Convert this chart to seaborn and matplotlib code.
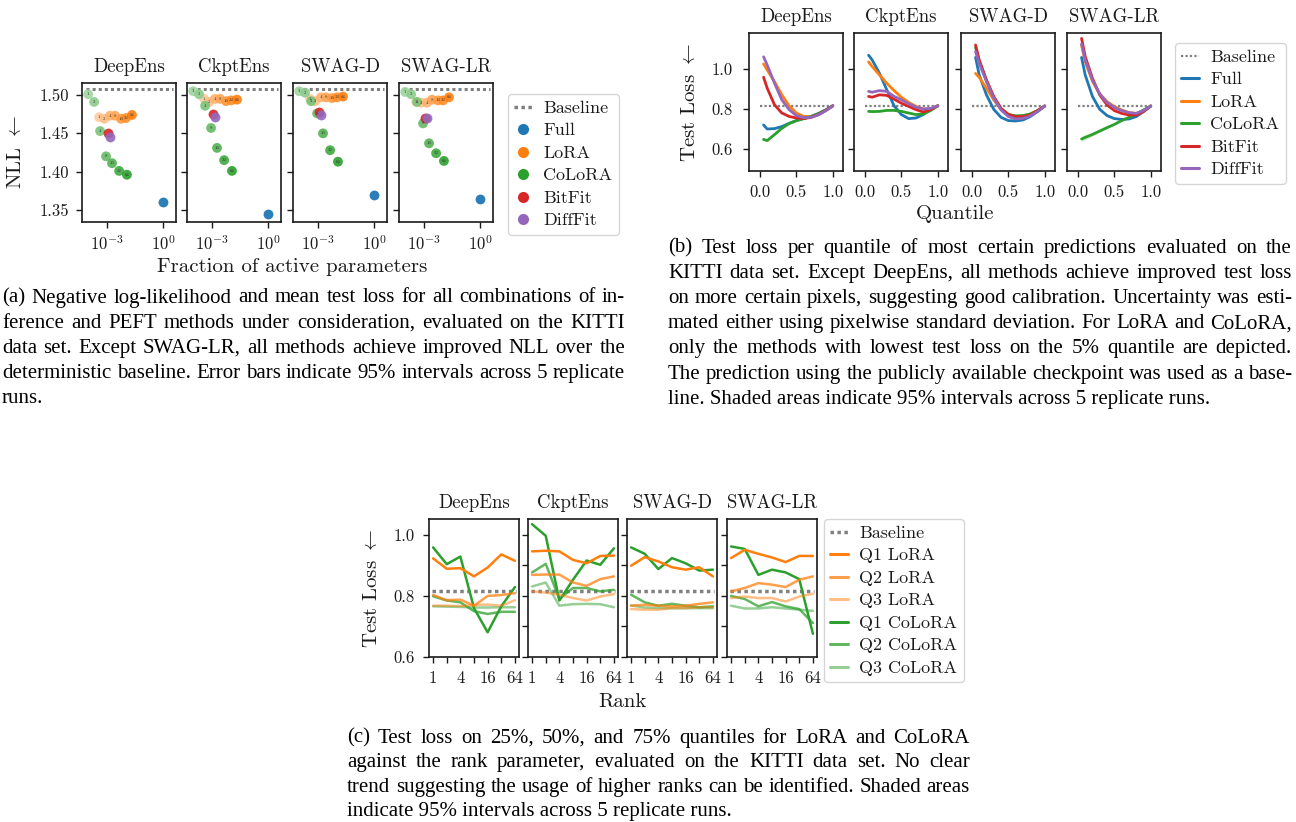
import numpy as np
import pandas as pd
import matplotlib
matplotlib.use("Agg")
import matplotlib.pyplot as plt
import seaborn as sns
from matplotlib.lines import Line2D

W, H = 1296, 822

methods = ["DeepEns", "CkptEns", "SWAG-D", "SWAG-LR"]
ranks = [1, 2, 4, 8, 16, 32, 64]

# ---- (a) NLL vs fraction of active parameters (log10 of fraction)
lora_frac_exp = [-3.42, -3.15, -2.84, -2.57, -2.25, -1.98, -1.66]
colora_frac_exp = [-4.01, -3.69, -3.37, -3.05, -2.73, -2.35, -1.93]
bitfit_frac_exp = -2.96
difffit_frac_exp = -2.83
full_frac_exp = 0.0

nll_baseline = 1.508
nll_full = [1.360, 1.345, 1.369, 1.364]
nll_bitfit = [1.450, 1.475, 1.478, 1.470]
nll_difffit = [1.445, 1.471, 1.474, 1.470]
nll_lora = [
    [1.471, 1.469, 1.473, 1.473, 1.469, 1.470, 1.474],
    [1.495, 1.491, 1.495, 1.495, 1.492, 1.493, 1.494],
    [1.495, 1.492, 1.497, 1.497, 1.496, 1.497, 1.498],
    [1.491, 1.490, 1.490, 1.494, 1.493, 1.493, 1.497],
]
nll_colora = [
    [1.501, 1.491, 1.453, 1.420, 1.411, 1.401, 1.396],
    [1.505, 1.501, 1.486, 1.457, 1.431, 1.415, 1.401],
    [1.505, 1.503, 1.492, 1.476, 1.450, 1.428, 1.413],
    [1.504, 1.501, 1.491, 1.463, 1.437, 1.424, 1.414],
]

# ---- (b) test loss per quantile
quantiles = [0.05, 0.1, 0.2, 0.3, 0.4, 0.5, 0.6, 0.7, 0.8, 0.9, 1.0]
loss_baseline = 0.815
loss_full = [
    [0.720, 0.700, 0.702, 0.712, 0.728, 0.742, 0.752, 0.763, 0.777, 0.795, 0.816],
    [1.069, 1.045, 0.978, 0.896, 0.816, 0.772, 0.752, 0.755, 0.772, 0.797, 0.816],
    [1.058, 0.970, 0.870, 0.798, 0.758, 0.742, 0.740, 0.745, 0.762, 0.787, 0.815],
    [1.058, 0.970, 0.862, 0.798, 0.767, 0.752, 0.748, 0.750, 0.762, 0.787, 0.815],
]
loss_lora = [
    [1.025, 0.995, 0.937, 0.871, 0.816, 0.780, 0.763, 0.762, 0.771, 0.791, 0.816],
    [1.036, 1.012, 0.970, 0.929, 0.892, 0.859, 0.833, 0.813, 0.800, 0.800, 0.816],
    [0.978, 0.958, 0.903, 0.845, 0.798, 0.773, 0.762, 0.765, 0.775, 0.792, 0.815],
    [1.120, 1.037, 0.937, 0.875, 0.837, 0.812, 0.795, 0.782, 0.778, 0.792, 0.815],
]
loss_colora = [
    [0.648, 0.642, 0.672, 0.703, 0.727, 0.742, 0.752, 0.762, 0.776, 0.795, 0.816],
    [0.788, 0.787, 0.788, 0.793, 0.793, 0.788, 0.780, 0.772, 0.775, 0.792, 0.816],
    [1.108, 1.040, 0.940, 0.857, 0.800, 0.772, 0.766, 0.767, 0.775, 0.792, 0.815],
    [0.650, 0.658, 0.673, 0.690, 0.707, 0.723, 0.742, 0.758, 0.775, 0.795, 0.815],
]
loss_bitfit = [
    [0.959, 0.904, 0.821, 0.780, 0.763, 0.755, 0.752, 0.758, 0.772, 0.792, 0.816],
    [0.863, 0.859, 0.871, 0.868, 0.849, 0.829, 0.813, 0.797, 0.785, 0.797, 0.816],
    [1.120, 1.045, 0.945, 0.862, 0.803, 0.773, 0.762, 0.762, 0.770, 0.792, 0.815],
    [1.153, 1.062, 0.953, 0.870, 0.820, 0.792, 0.778, 0.770, 0.770, 0.787, 0.815],
]
loss_difffit = [
    [1.061, 1.020, 0.929, 0.846, 0.797, 0.767, 0.757, 0.758, 0.770, 0.791, 0.816],
    [0.888, 0.884, 0.892, 0.888, 0.863, 0.846, 0.826, 0.810, 0.800, 0.803, 0.816],
    [1.087, 1.028, 0.937, 0.853, 0.795, 0.762, 0.750, 0.753, 0.765, 0.787, 0.815],
    [1.125, 1.045, 0.945, 0.875, 0.832, 0.808, 0.792, 0.782, 0.778, 0.792, 0.815],
]
# half width of the visible 95% band (CoLoRA, SWAG-LR)
colora_swaglr_band = [0.014, 0.012, 0.009, 0.007, 0.005, 0.004, 0.003, 0.003, 0.002, 0.002, 0.002]

# ---- (c) test loss on quantiles vs rank
q1_lora = [
    [0.923, 0.889, 0.891, 0.864, 0.893, 0.936, 0.915],
    [0.946, 0.948, 0.946, 0.918, 0.907, 0.931, 0.932],
    [0.899, 0.927, 0.913, 0.894, 0.886, 0.894, 0.864],
    [0.924, 0.951, 0.938, 0.926, 0.911, 0.931, 0.931],
]
q2_lora = [
    [0.803, 0.786, 0.788, 0.768, 0.800, 0.803, 0.809],
    [0.869, 0.870, 0.870, 0.844, 0.833, 0.855, 0.864],
    [0.768, 0.771, 0.768, 0.766, 0.768, 0.774, 0.779],
    [0.815, 0.826, 0.842, 0.837, 0.829, 0.853, 0.864],
]
q3_lora = [
    [0.768, 0.768, 0.767, 0.770, 0.772, 0.768, 0.786],
    [0.815, 0.811, 0.804, 0.793, 0.785, 0.798, 0.806],
    [0.757, 0.755, 0.755, 0.760, 0.760, 0.763, 0.763],
    [0.793, 0.798, 0.793, 0.793, 0.782, 0.798, 0.807],
]
q1_colora = [
    [0.959, 0.904, 0.929, 0.760, 0.681, 0.766, 0.829],
    [1.035, 0.997, 0.785, 0.853, 0.916, 0.902, 0.956],
    [0.959, 0.938, 0.888, 0.924, 0.907, 0.883, 0.886],
    [0.962, 0.954, 0.869, 0.886, 0.877, 0.855, 0.676],
]
q2_colora = [
    [0.799, 0.785, 0.779, 0.750, 0.741, 0.748, 0.748],
    [0.877, 0.905, 0.790, 0.826, 0.826, 0.815, 0.820],
    [0.804, 0.779, 0.768, 0.774, 0.768, 0.763, 0.766],
    [0.800, 0.790, 0.766, 0.780, 0.766, 0.757, 0.711],
]
q3_colora = [
    [0.766, 0.765, 0.764, 0.762, 0.762, 0.763, 0.763],
    [0.831, 0.844, 0.768, 0.773, 0.774, 0.773, 0.763],
    [0.769, 0.762, 0.760, 0.760, 0.760, 0.760, 0.760],
    [0.768, 0.759, 0.759, 0.763, 0.759, 0.755, 0.751],
]

caption_a = [
    "(a) Negative log-likelihood and mean test loss for all combinations of in-",
    "ference and PEFT methods under consideration, evaluated on the KITTI",
    "data set. Except SWAG-LR, all methods achieve improved NLL over the",
    "deterministic baseline. Error bars indicate 95% intervals across 5 replicate",
    "runs.",
]
caption_b = [
    "(b) Test loss per quantile of most certain predictions evaluated on the",
    "KITTI data set. Except DeepEns, all methods achieve improved test loss",
    "on more certain pixels, suggesting good calibration. Uncertainty was esti-",
    "mated either using pixelwise standard deviation. For LoRA and CoLoRA,",
    "only the methods with lowest test loss on the 5% quantile are depicted.",
    "The prediction using the publicly available checkpoint was used as a base-",
    "line. Shaded areas indicate 95% intervals across 5 replicate runs.",
]
caption_c = [
    "(c) Test loss on 25%, 50%, and 75% quantiles for LoRA and CoLoRA",
    "against the rank parameter, evaluated on the KITTI data set.  No clear",
    "trend suggesting the usage of higher ranks can be identified. Shaded areas",
    "indicate 95% intervals across 5 replicate runs.",
]

sns.set_theme(style="ticks")
plt.rcParams.update({
    "font.family": "cmr10",
    "mathtext.fontset": "cm",
    "axes.formatter.use_mathtext": True,
    "axes.linewidth": 1.2,
    "axes.edgecolor": "#1a1a1a",
    "xtick.color": "#1a1a1a",
    "ytick.color": "#1a1a1a",
    "text.color": "#1a1a1a",
    "xtick.major.size": 4,
    "ytick.major.size": 4,
    "xtick.major.width": 1.0,
    "ytick.major.width": 1.0,
    "xtick.labelsize": 12,
    "ytick.labelsize": 12,
    "axes.titlesize": 13.5,
    "legend.fontsize": 13,
})
LABEL_SIZE = 15

c_full, c_lora, c_colora, c_bitfit, c_difffit = sns.color_palette("tab10")[:5]
c_base = "#808080"


def shade(color, n, lo):
    # blend with white, light for low ranks, full colour for rank 64
    return [tuple(1 - a * (1 - np.array(color))) for a in np.linspace(lo, 1.0, n)]


lora_ranks_col = shade(c_lora, len(ranks), 0.4)
colora_ranks_col = shade(c_colora, len(ranks), 0.45)

fig = plt.figure(figsize=(W / 100, H / 100), dpi=100)


def px_axes(left, top, w, h):
    return fig.add_axes([left / W, 1 - (top + h) / H, w / W, h / H])


legend_kw = dict(loc="upper left", borderaxespad=0, handlelength=1.0, handletextpad=0.6,
                 labelspacing=0.38, borderpad=0.35)

# ================= (a) =================
a_lefts = [82, 187, 293, 399]
for i, m in enumerate(methods):
    ax = px_axes(a_lefts[i], 83, 94, 139)
    ax.axhline(nll_baseline, xmin=0.04, xmax=0.97, color=c_base, lw=2.2,
               ls=(0, (1, 1)), zorder=1)
    xl = 10.0 ** np.array(lora_frac_exp)
    xc = 10.0 ** np.array(colora_frac_exp)
    sns.scatterplot(x=xl, y=nll_lora[i], hue=ranks, palette=lora_ranks_col,
                    s=50, alpha=0.9, linewidth=0, legend=False, ax=ax, zorder=2)
    sns.scatterplot(x=xc, y=nll_colora[i], hue=ranks, palette=colora_ranks_col,
                    s=50, alpha=0.9, linewidth=0, legend=False, ax=ax, zorder=3)
    sns.scatterplot(x=[10.0 ** bitfit_frac_exp], y=[nll_bitfit[i]], color=c_bitfit,
                    s=50, alpha=0.9, linewidth=0, ax=ax, zorder=4)
    sns.scatterplot(x=[10.0 ** difffit_frac_exp], y=[nll_difffit[i]], color=c_difffit,
                    s=50, alpha=0.9, linewidth=0, ax=ax, zorder=5)
    sns.scatterplot(x=[10.0 ** full_frac_exp], y=[nll_full[i]], color=c_full,
                    s=50, alpha=0.95, linewidth=0, ax=ax, zorder=5)
    for r, x, y in zip(ranks, xl, nll_lora[i]):
        ax.text(x, y, str(r), fontsize=3.4, ha="center", va="center", color="#333333", zorder=6)
    for r, x, y in zip(ranks, xc, nll_colora[i]):
        ax.text(x, y, str(r), fontsize=3.4, ha="center", va="center", color="#333333", zorder=6)
    ax.set_xscale("log")
    ax.set_xlim(10 ** -4.34, 10 ** 0.7)
    ax.set_ylim(1.3343, 1.5157)
    ax.set_xticks([1e-3, 1e0])
    ax.xaxis.set_minor_locator(matplotlib.ticker.NullLocator())
    ax.set_yticks([1.35, 1.40, 1.45, 1.50])
    ax.yaxis.set_major_formatter(matplotlib.ticker.FormatStrFormatter("%.2f"))
    ax.tick_params(pad=5, labelleft=(i == 0))
    ax.set_title(m, pad=8)

fig.text(292 / W, 1 - 267 / H, "Fraction of active parameters", ha="center", va="center",
         fontsize=LABEL_SIZE)
fig.text(16 / W, 1 - 152 / H, r"NLL $\leftarrow$", ha="center", va="center", rotation=90,
         fontsize=LABEL_SIZE)

marker_kw = dict(marker="o", ls="", markersize=8, markeredgewidth=0)
handles_a = [
    Line2D([], [], color=c_base, lw=2.5, ls=(0, (1, 1))),
    Line2D([], [], color=c_full, **marker_kw),
    Line2D([], [], color=c_lora, **marker_kw),
    Line2D([], [], color=c_colora, **marker_kw),
    Line2D([], [], color=c_bitfit, **marker_kw),
    Line2D([], [], color=c_difffit, **marker_kw),
]
labels_ab = ["Baseline", "Full", "LoRA", "CoLoRA", "BitFit", "DiffFit"]
fig.legend(handles_a, labels_ab, bbox_to_anchor=(508 / W, 1 - 94 / H), **legend_kw)

# ================= (b) =================
b_lefts = [749, 854, 961, 1067]
series_b = [
    (loss_full, c_full), (loss_lora, c_lora), (loss_colora, c_colora),
    (loss_bitfit, c_bitfit), (loss_difffit, c_difffit),
]
for i, m in enumerate(methods):
    ax = px_axes(b_lefts[i], 33, 94, 138)
    ax.plot([0.0, 1.0], [loss_baseline, loss_baseline], color=c_base, lw=1.6,
            ls=(0, (1, 1)), zorder=1)
    if m == "SWAG-LR":
        lo = np.array(loss_colora[i]) - np.array(colora_swaglr_band)
        hi = np.array(loss_colora[i]) + np.array(colora_swaglr_band)
        ax.fill_between(quantiles, lo, hi, color=c_colora, alpha=0.2, lw=0)
    for vals, col in series_b:
        sns.lineplot(x=quantiles, y=vals[i], color=col, lw=2.0, ax=ax)
    ax.set_xlim(-0.15, 1.14)
    ax.set_ylim(0.49, 1.18)
    ax.set_xticks([0.0, 0.5, 1.0])
    ax.set_yticks([0.6, 0.8, 1.0])
    ax.xaxis.set_major_formatter(matplotlib.ticker.FormatStrFormatter("%.1f"))
    ax.yaxis.set_major_formatter(matplotlib.ticker.FormatStrFormatter("%.1f"))
    ax.tick_params(pad=6, labelleft=(i == 0))
    ax.tick_params(axis="y", pad=8)
    ax.set_title(m, pad=8)

fig.text(955 / W, 1 - 214 / H, "Quantile", ha="center", va="center", fontsize=LABEL_SIZE)
fig.text(690 / W, 1 - 102 / H, r"Test Loss $\leftarrow$", ha="center", va="center",
         rotation=90, fontsize=LABEL_SIZE)
handles_b = [Line2D([], [], color=c_base, lw=1.6, ls=(0, (1, 1)))] + \
    [Line2D([], [], color=c, lw=2.2) for c in [c_full, c_lora, c_colora, c_bitfit, c_difffit]]
fig.legend(handles_b, labels_ab, bbox_to_anchor=(1175 / W, 1 - 43 / H), **legend_kw)

# ================= (c) =================
c_lefts = [429, 528, 627, 727]
series_c = [
    (q1_lora, c_lora, 1.0), (q2_lora, c_lora, 0.75), (q3_lora, c_lora, 0.5),
    (q1_colora, c_colora, 1.0), (q2_colora, c_colora, 0.75), (q3_colora, c_colora, 0.5),
]
for i, m in enumerate(methods):
    ax = px_axes(c_lefts[i], 519, 90, 138)
    ax.axhline(loss_baseline, xmin=0.03, xmax=0.97, color=c_base, lw=2.5,
               ls=(0, (1, 1)), zorder=1)
    for vals, col, a in series_c[::-1]:
        sns.lineplot(x=ranks, y=vals[i], color=col, alpha=a, lw=1.8, ax=ax)
    ax.set_xscale("log", base=2)
    ax.set_xticks(ranks)
    ax.set_xticklabels(["1", "", "4", "", "16", "", "64"])
    ax.xaxis.set_minor_locator(matplotlib.ticker.NullLocator())
    ax.set_ylim(0.6, 1.052)
    if i == 0:
        ax.set_yticks([0.6, 0.8, 1.0])
    else:
        ax.set_yticks([0.6, 0.7, 0.8, 0.9, 1.0])
    ax.yaxis.set_major_formatter(matplotlib.ticker.FormatStrFormatter("%.1f"))
    ax.tick_params(pad=6, labelleft=(i == 0))
    ax.set_title(m, pad=8)

fig.text(622 / W, 1 - 702 / H, "Rank", ha="center", va="center", fontsize=LABEL_SIZE)
fig.text(372 / W, 1 - 588 / H, r"Test Loss $\leftarrow$", ha="center", va="center",
         rotation=90, fontsize=LABEL_SIZE)
handles_c = [Line2D([], [], color=c_base, lw=2.5, ls=(0, (1, 1)))] + \
    [Line2D([], [], color=c, alpha=a, lw=2.2) for _, c, a in series_c]
labels_c = ["Baseline", "Q1 LoRA", "Q2 LoRA", "Q3 LoRA", "Q1 CoLoRA", "Q2 CoLoRA", "Q3 CoLoRA"]
fig.legend(handles_c, labels_c, bbox_to_anchor=(824 / W, 1 - 519 / H), **legend_kw)


# ================= captions (justified) =================
renderer = fig.canvas.get_renderer()


def caption(lines, x0, x1, y0, dy, size=15):
    for k, line in enumerate(lines):
        y = 1 - (y0 + k * dy) / H
        kw = dict(fontsize=size, family="Liberation Serif", va="center", ha="left",
                  color="black")
        if k == len(lines) - 1:
            fig.text(x0 / W, y, line, **kw)
            continue
        words = line.split()
        texts = [fig.text(0, y, w, **kw) for w in words]
        widths = [t.get_window_extent(renderer).width for t in texts]
        gap = (x1 - x0 - sum(widths)) / (len(words) - 1)
        x = x0
        for t, w in zip(texts, widths):
            t.set_x(x / W)
            x += w + gap


caption(caption_a, 2, 625, 298, 25.2)
caption(caption_b, 668, 1292, 248, 25.2)
caption(caption_c, 347, 970, 738, 24.6)

fig.savefig("out.png", dpi=100)
